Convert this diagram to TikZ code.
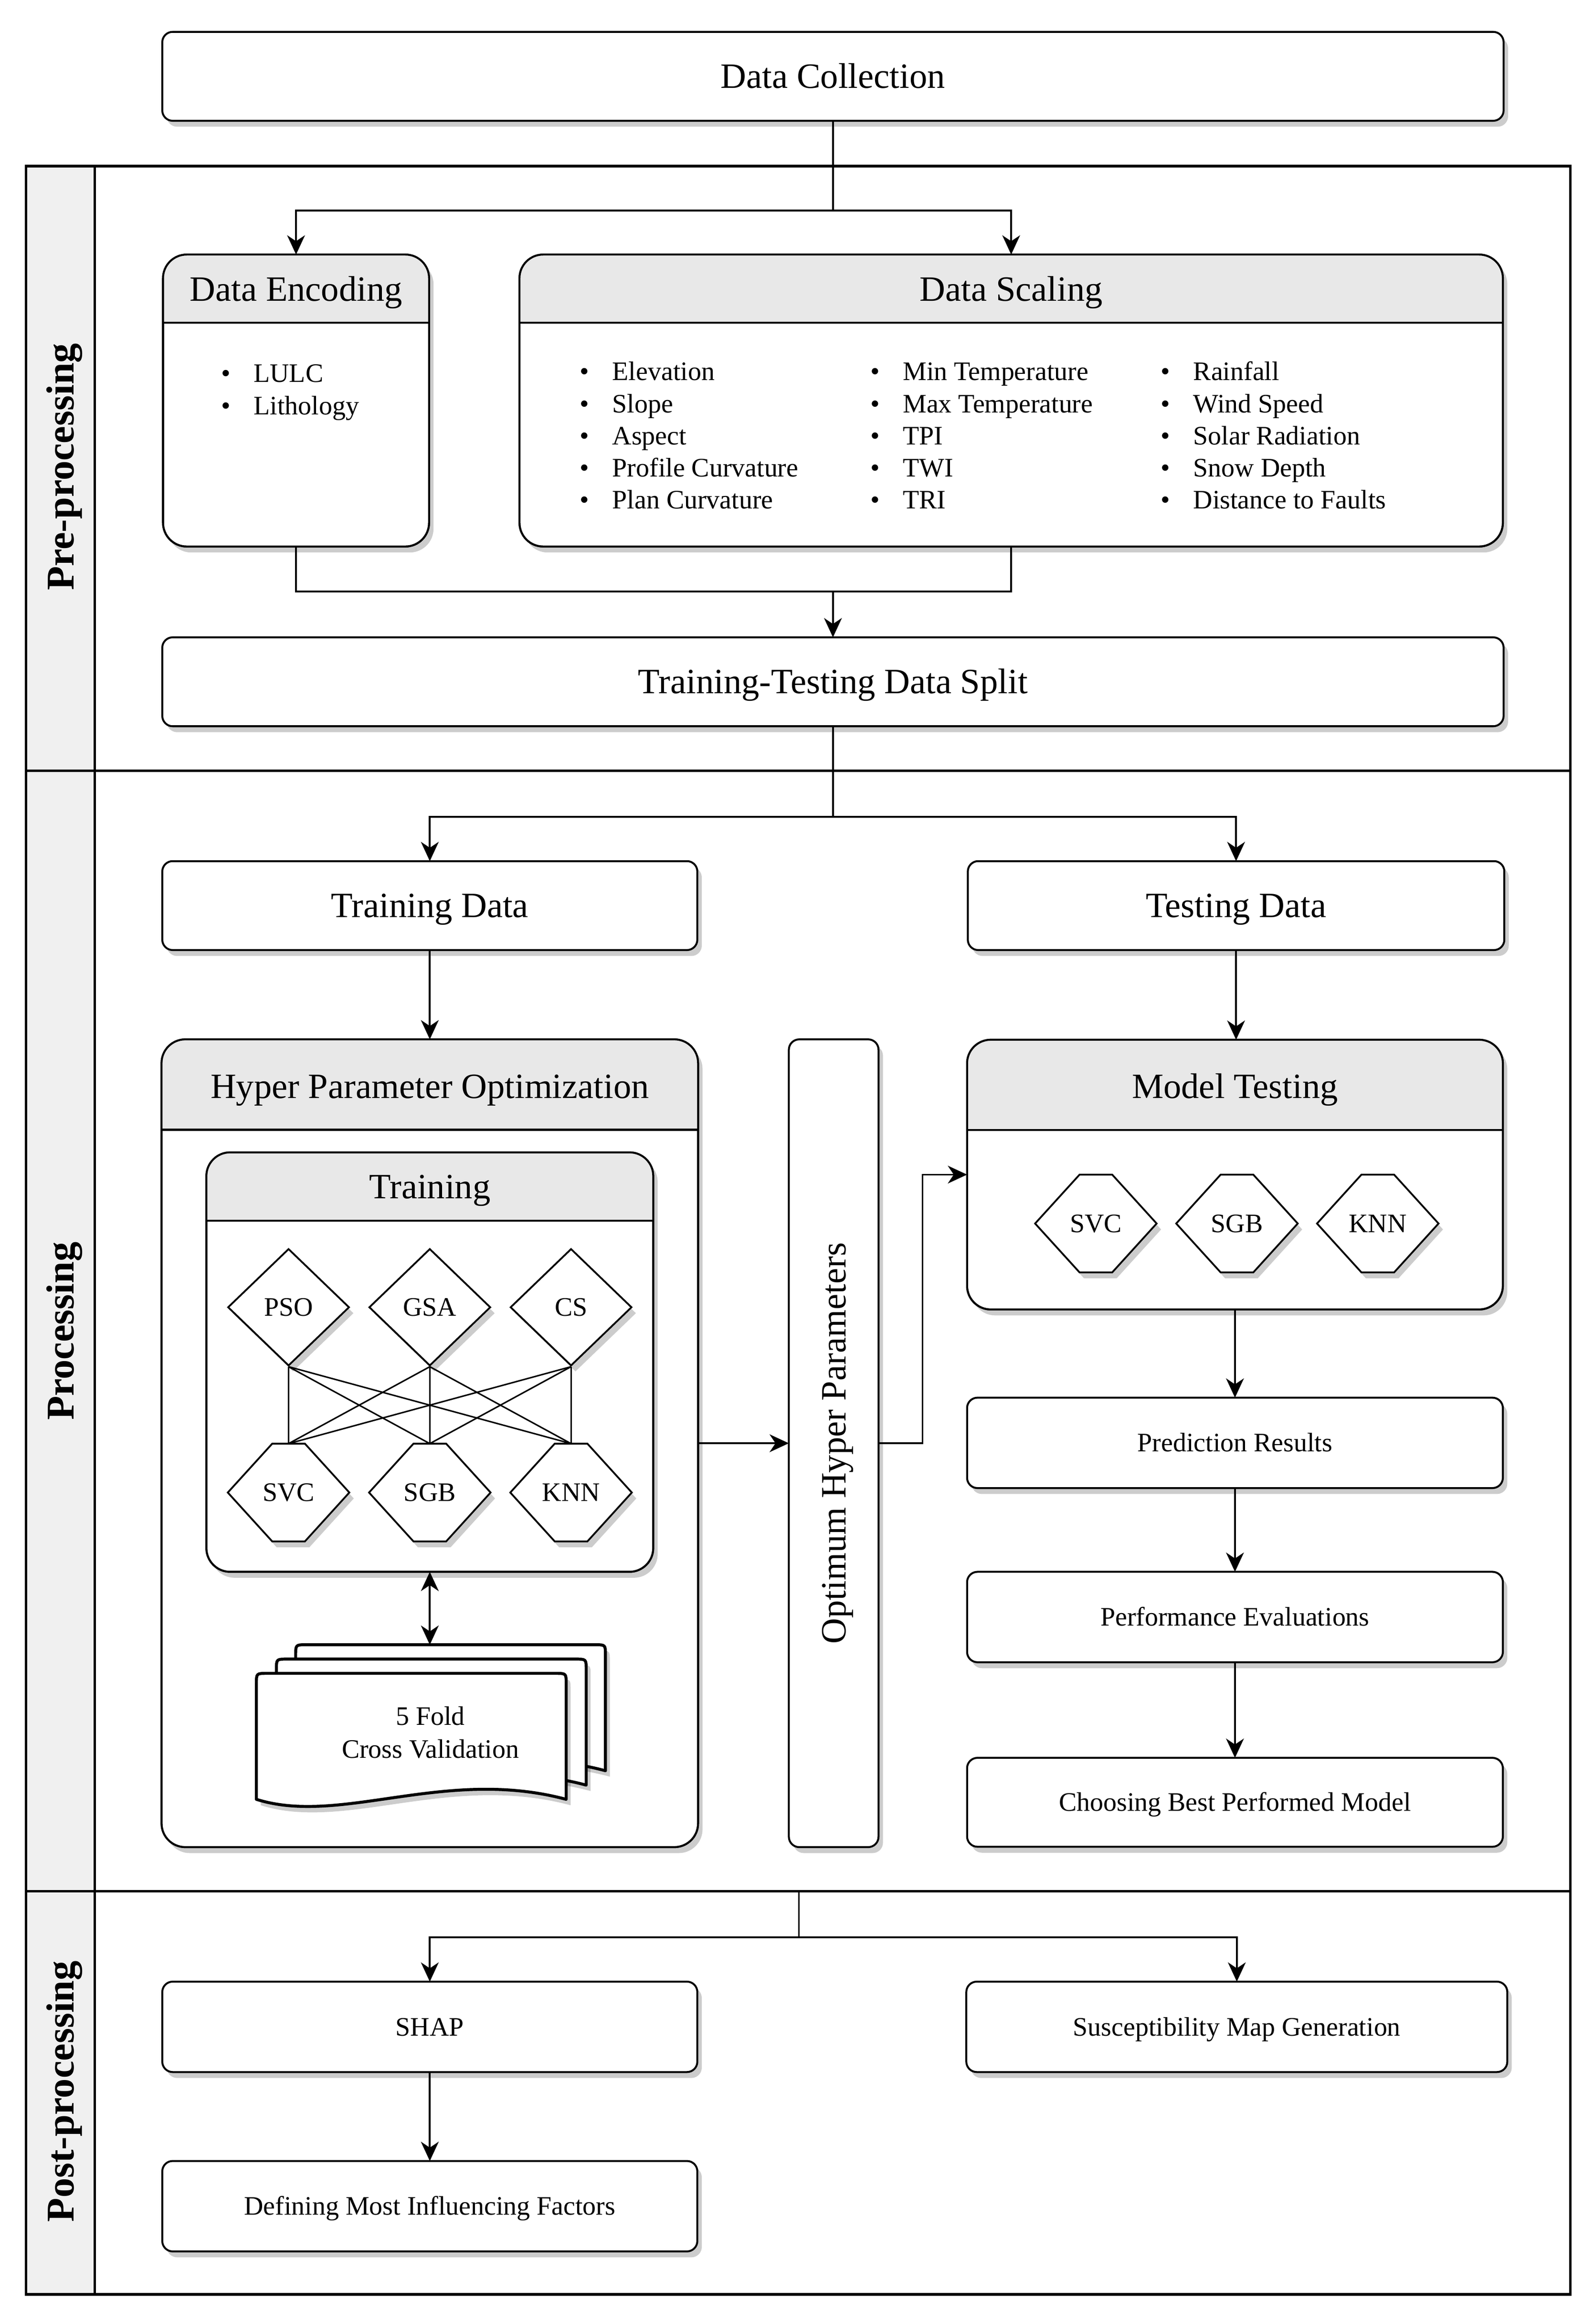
\documentclass[tikz,border=0pt]{standalone}
\usepackage{fontspec}
\setmainfont{Liberation Serif}
\usetikzlibrary{shapes.geometric,shadows,arrows.meta,calc}
\newcommand\myitem[1]{\makebox[22pt][l]{\textbullet}#1}
\newcommand\hdrfill[2]{%
  \begin{scope}
    \clip[rounded corners=16pt] (#1.north west) rectangle (#1.south east);
    \fill[gray!18] (#1.north west) rectangle ($(#1.north east)+(0,#2)$);
  \end{scope}
  \draw[line width=1.3pt] ($(#1.north west)+(0,#2)$) -- ($(#1.north east)+(0,#2)$);
  \draw[line width=1.3pt,rounded corners=16pt] (#1.north west) rectangle (#1.south east);
}
\begin{document}
\begin{tikzpicture}[x=1pt,y=-1pt,
  ln/.style={line width=1.2pt},
  thinln/.style={line width=1pt},
  arr/.style={line width=1.2pt,-{Stealth[length=13pt,width=12pt,inset=4pt]}},
  darr/.style={line width=1.2pt,{Stealth[length=13pt,width=12pt,inset=4pt]}-{Stealth[length=13pt,width=12pt,inset=4pt]}},
  shd/.style={drop shadow={shadow xshift=3pt,shadow yshift=-4pt,fill=black,opacity=0.2}},
  box/.style={draw,line width=1.3pt,rounded corners=7pt,fill=white,shd,inner sep=0pt,outer sep=0pt,align=center},
  bigbox/.style={box,rounded corners=16pt},
  f24/.style={font=\fontsize{24}{28}\selectfont,text height=16pt,text depth=0pt},
  f18/.style={font=\fontsize{18}{22}\selectfont,text height=12pt,text depth=0pt},
  lane/.style={font=\fontsize{26.5}{30}\selectfont\bfseries,text height=17.5pt,text depth=0pt},
  dia/.style={draw,shape=diamond,line width=1.2pt,fill=white,shd,minimum width=82pt,minimum height=79pt,inner sep=0pt,aspect=1,f18},
  hexs/.style={draw,line width=1.2pt,fill=white,shd,line join=miter},
  docs/.style={draw,line width=2pt,fill=white,shd,line join=round}
]
\useasboundingbox (0,0) rectangle (1075.2,1568);

% ---------- lanes frame ----------
\fill[gray!12] (17.5,112) rectangle (64,1548);
\draw[line width=1.8pt] (17.5,112) rectangle (1059.5,1548);
\draw[line width=1.8pt] (64,112) -- (64,1548);
\draw[line width=1.8pt] (17.5,520) -- (1059.5,520);
\draw[line width=1.8pt] (17.5,1276) -- (1059.5,1276);
\node[lane,rotate=90] (lpre) at (41,315) {Pre-processing};
\node[lane,rotate=90] (lproc) at (41,898) {Processing};
\node[lane,rotate=90] (lpost) at (41,1411) {Post-processing};

% ---------- top ----------
\node[box,f24,minimum width=905pt,minimum height=60pt] (dc) at (562,51.5) {Data Collection};

\node[bigbox,minimum width=179.5pt,minimum height=197pt] (enc) at (199.75,270.25) {};
\hdrfill{enc}{46}
\node[f24] (enct) at (199.75,195) {Data Encoding};
\node[bigbox,minimum width=663.5pt,minimum height=197pt] (scl) at (682.25,270.25) {};
\hdrfill{scl}{46}
\node[f24] (sclt) at (682.25,195) {Data Scaling};

\foreach \t [count=\i] in {LULC,Lithology}
  \node[font=\fontsize{18}{22}\selectfont,anchor=base west,inner sep=0pt] (ea\i) at (149,236.3+21.7*\i) {\myitem{\t}};
\foreach \t [count=\i] in {Elevation,Slope,Aspect,Profile Curvature,Plan Curvature}
  \node[font=\fontsize{18}{22}\selectfont,anchor=base west,inner sep=0pt] (sa\i) at (391,235+21.65*\i) {\myitem{\t}};
\foreach \t [count=\i] in {Min Temperature,Max Temperature,TPI,TWI,TRI}
  \node[font=\fontsize{18}{22}\selectfont,anchor=base west,inner sep=0pt] (sb\i) at (587,235+21.65*\i) {\myitem{\t}};
\foreach \t [count=\i] in {Rainfall,Wind Speed,Solar Radiation,Snow Depth,Distance to Faults}
  \node[font=\fontsize{18}{22}\selectfont,anchor=base west,inner sep=0pt] (sc\i) at (783,235+21.65*\i) {\myitem{\t}};

\node[box,f24,minimum width=905pt,minimum height=60pt] (tts) at (562,460) {Training-Testing Data Split};

\coordinate (s1) at (562,142);
\draw[ln] (dc.south) -- (s1);
\draw[arr] (s1) -| (enc.north);
\draw[arr] (s1) -| (scl.north);
\coordinate (m1) at (562,399);
\draw[ln] (enc.south) |- (m1);
\draw[ln] (scl.south) |- (m1);
\draw[arr] (m1) -- (tts.north);

% ---------- processing ----------
\node[box,f24,minimum width=361pt,minimum height=60pt] (trd) at (290,611) {Training Data};
\node[box,f24,minimum width=362pt,minimum height=60pt] (ted) at (834,611) {Testing Data};
\coordinate (s2) at (562,551);
\draw[ln] (tts.south) -- (s2);
\draw[arr] (s2) -| (trd.north);
\draw[arr] (s2) -| (ted.north);

\node[bigbox,minimum width=362pt,minimum height=545pt] (hpo) at (290,973.75) {};
\hdrfill{hpo}{61}
\node[f24] (hpot) at (290,733) {Hyper Parameter Optimization};

\node[bigbox,minimum width=301.5pt,minimum height=283pt] (trn) at (290,919) {};
\hdrfill{trn}{46}
\node[f24] (trnt) at (290,800.5) {Training};

\node[dia] (pso) at (194.7,882) {PSO};
\node[dia] (gsa) at (290,882) {GSA};
\node[dia] (cs) at (385.3,882) {CS};

\foreach \n/\x/\t in {svc/194.7/SVC,sgb/290/SGB,knn/385.3/KNN}{
  \draw[hexs,shift={(\x,1007)}] (-41,0) -- (-11,-33) -- (11,-33) -- (41,0) -- (11,33) -- (-11,33) -- cycle;
  \node[f18] (\n) at (\x,1007) {\t};
  \coordinate (\n-t) at (\x,974);
}
\foreach \a in {pso,gsa,cs}
  \foreach \b in {svc,sgb,knn}
    \draw[thinln] (\a.south) -- (\b-t);

% documents stack
\foreach \dx/\dy in {26.5/-19.3,13.5/-9.6,0/0}{
  \draw[docs,shift={(\dx,\dy)}] (173,1214) -- (173,1136) .. controls (173,1129) .. (180,1129)
     -- (375,1129) .. controls (382,1129) .. (382,1136) -- (382,1214)
     .. controls (300,1192) and (230,1232) .. (173,1214) -- cycle;
}
\node[font=\fontsize{18}{22.2}\selectfont,align=center] (cv) at (290.4,1169) {5 Fold\\Cross Validation};
\coordinate (cvtop) at (290,1109.7);
\draw[darr] (trn.south) -- (cvtop);

\node[box,rounded corners=7pt,minimum width=60.5pt,minimum height=545pt] (opt) at (562.5,973.75) {};
\node[f24,rotate=90] (optt) at (562.5,973.75) {Optimum Hyper Parameters};

\node[bigbox,minimum width=361.5pt,minimum height=182pt] (mt) at (833.25,792.5) {};
\hdrfill{mt}{61}
\node[f24] (mtt) at (833.25,733) {Model Testing};
\foreach \n/\x/\t in {msvc/739.4/SVC,msgb/834.6/SGB,mknn/929.6/KNN}{
  \draw[hexs,shift={(\x,825.5)}] (-41,0) -- (-11,-33) -- (11,-33) -- (41,0) -- (11,33) -- (-11,33) -- cycle;
  \node[f18] (\n) at (\x,825.5) {\t};
}

\node[box,f18,minimum width=361.5pt,minimum height=61pt] (pr) at (833.25,973.5) {Prediction Results};
\node[box,f18,minimum width=361.5pt,minimum height=61pt] (pe) at (833.25,1091) {Performance Evaluations};
\node[box,f18,minimum width=361.5pt,minimum height=60pt] (cb) at (833.25,1216) {Choosing Best Performed Model};

\draw[arr] (trd.south) -- (hpo.north);
\draw[arr] (ted.south) -- (ted.south |- mt.north);
\draw[arr] (hpo.east) -- (opt.west);
\coordinate (bend) at (622.5,973.75);
\draw[arr] (opt.east) -- (bend) |- (mt.west);
\draw[arr] (mt.south) -- (pr.north);
\draw[arr] (pr.south) -- (pe.north);
\draw[arr] (pe.south) -- (cb.north);

% ---------- post-processing ----------
\node[box,f18,minimum width=361pt,minimum height=61pt] (shap) at (290,1367.5) {SHAP};
\node[box,f18,minimum width=365pt,minimum height=61pt] (smg) at (834.5,1367.5) {Susceptibility Map Generation};
\node[box,f18,minimum width=361pt,minimum height=61pt] (dmif) at (290,1488.5) {Defining Most Influencing Factors};
\coordinate (p0) at (539,1276);
\coordinate (p1) at (539,1307);
\draw[ln] (p0) -- (p1);
\draw[arr] (p1) -| (shap.north);
\draw[arr] (p1) -| (smg.north);
\draw[arr] (shap.south) -- (dmif.north);
\end{tikzpicture}
\end{document}
